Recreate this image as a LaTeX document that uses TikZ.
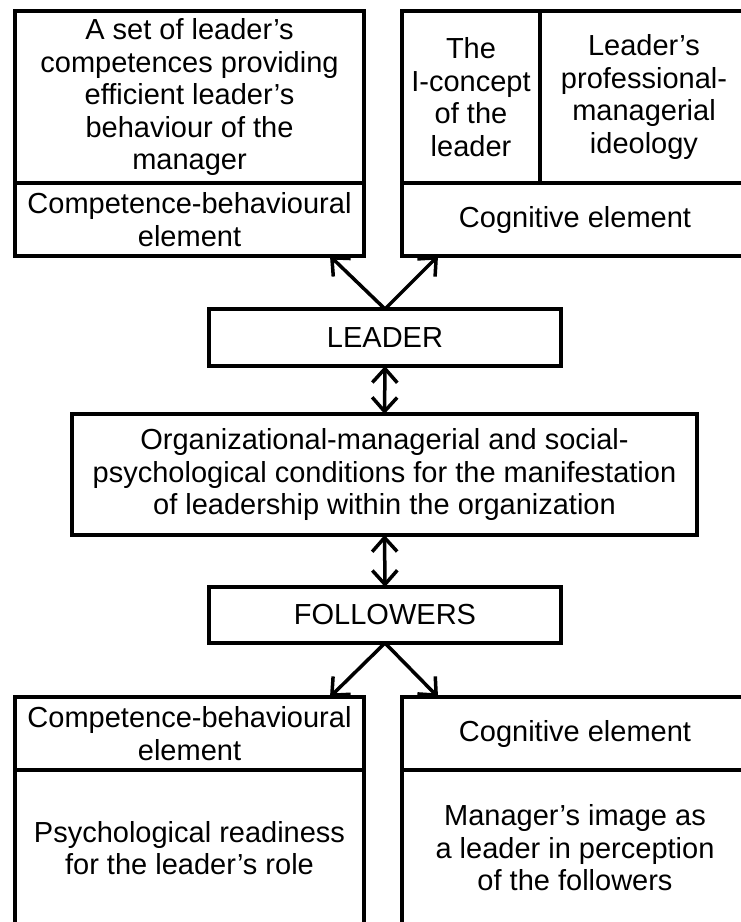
\documentclass[tikz,border=0pt]{standalone}
\usepackage{fontspec}
\setmainfont{Liberation Sans}
\usetikzlibrary{arrows.meta,calc}
\begin{document}
\begin{tikzpicture}[x=1pt,y=-1pt,
  cell/.style={draw, line width=3.5pt, inner sep=0pt, outer sep=0pt, align=center,
    font=\fontsize{29}{32.5}\selectfont},
  arr/.style={line width=3.5pt, -{Straight Barb[length=14pt,width=25pt]}},
  dbl/.style={line width=3.5pt, {Straight Barb[length=14pt,width=25pt]}-{Straight Barb[length=14pt,width=25pt]}}]
\useasboundingbox[fill=white] (0,0) rectangle (741,922);

% leader's side: competence-behavioural block
\node[cell, minimum width=349pt, minimum height=172pt] (tla) at (189.5,97)
  {A set of leader’s\\competences providing\\efficient leader’s\\behaviour of the\\manager};
\node[cell, minimum width=349pt, minimum height=73pt] (tlb) at (189.5,219.5)
  {Competence-behavioural\\element};

% leader's side: cognitive block
\node[cell, minimum width=138pt, minimum height=172pt] (tra) at (471,97)
  {The\\I-concept\\of the\\leader};
\node[cell, minimum width=208pt, minimum height=172pt] (trb) at (644,97)
  {Leader’s\\professional-\\managerial\\ideology};
\node[cell, minimum width=346pt, minimum height=73pt] (trc) at (575,219.5)
  {Cognitive element};

% central chain
\node[cell, minimum width=352pt, minimum height=57pt] (leader) at (385,337.5) {LEADER};
\node[cell, minimum width=625pt, minimum height=121pt] (org) at (384.5,474.5)
  {Organizational-managerial and social-\\psychological conditions for the manifestation\\of leadership within the organization};
\node[cell, minimum width=352pt, minimum height=56pt] (foll) at (385,615) {FOLLOWERS};

% followers' side
\node[cell, minimum width=349pt, minimum height=73pt] (bla) at (189.5,733.5)
  {Competence-behavioural\\element};
\node[cell, minimum width=349pt, minimum height=156pt] (blb) at (189.5,848)
  {Psychological readiness\\for the leader’s role};
\node[cell, minimum width=346pt, minimum height=73pt] (bra) at (575,733.5)
  {Cognitive element};
\node[cell, minimum width=346pt, minimum height=156pt] (brb) at (575,848)
  {Manager’s image as\\a leader in perception\\of the followers};

% connectors
\coordinate (tlt) at ($(tlb.south east)+(-34,0)$);
\coordinate (trt) at ($(trc.south west)+(36,0)$);
\coordinate (blt) at ($(bla.north east)+(-34,0)$);
\coordinate (brt) at ($(bra.north west)+(36,0)$);
\draw[arr] (leader.north) -- (tlt);
\draw[arr] (leader.north) -- (trt);
\draw[dbl] (leader.south) -- (org.north);
\draw[dbl] (org.south) -- (foll.north);
\draw[arr] (foll.south) -- (blt);
\draw[arr] (foll.south) -- (brt);
\end{tikzpicture}
\end{document}
